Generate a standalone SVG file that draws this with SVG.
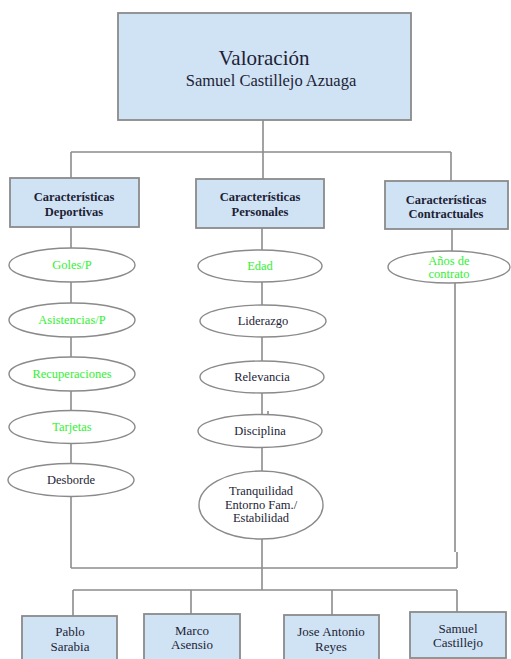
<svg xmlns="http://www.w3.org/2000/svg" width="511" height="659" viewBox="0 0 511 659" font-family="Liberation Serif">
<defs>
<rect id="dummy" width="0" height="0"/>
</defs>
<rect width="511" height="659" fill="#ffffff"/>
<g id="connectors" fill="none" stroke="#8c8c8c" stroke-width="1.6">
<path d="M263,120 V152 M71,152 H451 M71,152 V178 M263,152 V179 M451,152 V182"/>
<path d="M71,227 V568"/>
<path d="M262,228 V590"/>
<path d="M268,411 V416"/>
<path d="M452,229 V251 M455,283 V552 M457,552 V568"/>
<path d="M71,568 H457"/>
<path d="M73,590 H457 M73,590 V616 M191,590 V614 M332,590 V615 M457,590 V612"/>
</g>
<g text-anchor="middle" font-family="Liberation Serif">
<g id="root">
<rect x="118" y="13" width="293" height="107" fill="#cfe3f4" stroke="#8a8a8a" stroke-width="1.8"/>
<text x="264" y="65" font-size="21" fill="#1e1e36">Valoración</text>
<text x="271" y="86" font-size="16.5" fill="#1e1e36">Samuel Castillejo Azuaga</text>
</g>
<g font-weight="bold" font-size="12.5" fill="#1e1e36">
<g id="cat-deportivas">
<rect x="10" y="178" width="129" height="49" fill="#cfe3f4" stroke="#8a8a8a" stroke-width="1.8"/>
<text x="74" y="201">Características</text>
<text x="74" y="216">Deportivas</text>
</g>
<g id="cat-personales">
<rect x="196" y="179" width="128" height="49" fill="#cfe3f4" stroke="#8a8a8a" stroke-width="1.8"/>
<text x="260" y="201">Características</text>
<text x="260" y="216">Personales</text>
</g>
<g id="cat-contractuales">
<rect x="385" y="181" width="123" height="48" fill="#cfe3f4" stroke="#8a8a8a" stroke-width="1.8"/>
<text x="446" y="204">Características</text>
<text x="446" y="218">Contractuales</text>
</g>
</g>
<g font-size="12.5" fill="#1e1e36">
<g id="goles"><ellipse cx="72" cy="265" rx="63" ry="17" fill="#fff" stroke="#8a8a8a" stroke-width="1.4"/><text x="72" y="269" fill="#33f033">Goles/P</text></g>
<g id="asistencias"><ellipse cx="72" cy="320" rx="63" ry="17" fill="#fff" stroke="#8a8a8a" stroke-width="1.4"/><text x="72" y="324" fill="#33f033">Asistencias/P</text></g>
<g id="recuperaciones"><ellipse cx="72" cy="374" rx="63" ry="17" fill="#fff" stroke="#8a8a8a" stroke-width="1.4"/><text x="72" y="378" fill="#33f033">Recuperaciones</text></g>
<g id="tarjetas"><ellipse cx="72" cy="427" rx="63" ry="16.5" fill="#fff" stroke="#8a8a8a" stroke-width="1.4"/><text x="72" y="431" fill="#33f033">Tarjetas</text></g>
<g id="desborde"><ellipse cx="71" cy="480" rx="63" ry="16.5" fill="#fff" stroke="#8a8a8a" stroke-width="1.4"/><text x="71" y="484">Desborde</text></g>
<g id="edad"><ellipse cx="260" cy="266" rx="62" ry="16" fill="#fff" stroke="#8a8a8a" stroke-width="1.4"/><text x="260" y="270" fill="#33f033">Edad</text></g>
<g id="liderazgo"><ellipse cx="263" cy="321" rx="63" ry="16" fill="#fff" stroke="#8a8a8a" stroke-width="1.4"/><text x="263" y="325">Liderazgo</text></g>
<g id="relevancia"><ellipse cx="262" cy="377" rx="62" ry="16" fill="#fff" stroke="#8a8a8a" stroke-width="1.4"/><text x="262" y="381">Relevancia</text></g>
<g id="disciplina"><ellipse cx="260" cy="431" rx="62" ry="16.5" fill="#fff" stroke="#8a8a8a" stroke-width="1.4"/><text x="260" y="435">Disciplina</text></g>
<g id="tranquilidad"><ellipse cx="261" cy="505" rx="62" ry="34" fill="#fff" stroke="#8a8a8a" stroke-width="1.4"/>
<text x="261" y="495">Tranquilidad</text>
<text x="261" y="509">Entorno Fam./</text>
<text x="261" y="522">Estabilidad</text></g>
<g id="anos"><ellipse cx="449" cy="267" rx="61" ry="16" fill="#fff" stroke="#8a8a8a" stroke-width="1.4"/>
<text x="449" y="265" fill="#33f033">Años de</text>
<text x="449" y="278" fill="#33f033">contrato</text></g>
</g>
<g font-size="13" fill="#1e1e36">
<g id="pablo"><rect x="22" y="616" width="95" height="50" fill="#cfe3f4" stroke="#8a8a8a" stroke-width="1.8"/><text x="70" y="636">Pablo</text><text x="70" y="651">Sarabia</text></g>
<g id="marco"><rect x="144" y="614" width="96" height="52" fill="#cfe3f4" stroke="#8a8a8a" stroke-width="1.8"/><text x="192" y="635">Marco</text><text x="192" y="649">Asensio</text></g>
<g id="jose"><rect x="284" y="615" width="95" height="51" fill="#cfe3f4" stroke="#8a8a8a" stroke-width="1.8"/><text x="331" y="636">Jose Antonio</text><text x="331" y="651">Reyes</text></g>
<g id="samuel"><rect x="410" y="612" width="96" height="46" fill="#cfe3f4" stroke="#8a8a8a" stroke-width="1.8"/><text x="458" y="633">Samuel</text><text x="458" y="647">Castillejo</text></g>
</g>
</g>
</svg>
